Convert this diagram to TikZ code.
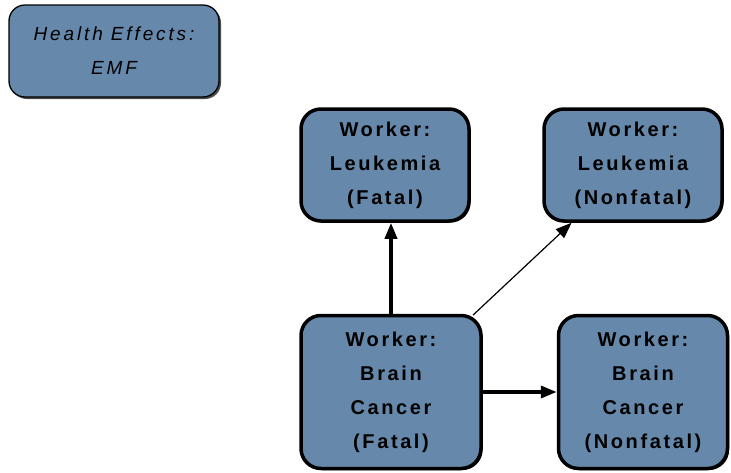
\documentclass[tikz,border=0pt]{standalone}
\usepackage{fontspec}
\setmainfont{Liberation Sans}
\newfontfamily\wfont[LetterSpace=13]{Liberation Sans}
\newfontfamily\efont[LetterSpace=15]{Liberation Sans}
\usepackage{tikz}
\usetikzlibrary{arrows.meta}
\usetikzlibrary{shadows}
\definecolor{boxblue}{RGB}{102,136,170}

\begin{document}
\begin{tikzpicture}[x=1pt,y=-1pt,
  effect/.style={draw=black,line width=1.3pt,fill=boxblue,rounded corners=16pt,
    align=center,inner sep=0pt,
    drop shadow={shadow xshift=2pt,shadow yshift=-2pt,fill=black!70,opacity=1},
    font=\efont\itshape\fontsize{19}{34}\selectfont},
  worker/.style={draw=black,line width=3.5pt,fill=boxblue,rounded corners=20pt,
    align=center,inner sep=0pt,
    drop shadow={shadow xshift=1.5pt,shadow yshift=-1.5pt,fill=black,opacity=1},
    font=\wfont\bfseries\fontsize{20}{34}\selectfont},
  link/.style={-{Triangle[length=16pt,width=12pt]}}]
\useasboundingbox (0,0) rectangle (731,472);

\node [effect,minimum width=210pt,minimum height=92pt] (emf) at (114,51) {Health Effects:\\EMF};

\node [worker,minimum width=168pt,minimum height=112pt] (leukF) at (385,165) {Worker:\\Leukemia\\(Fatal)};
\node [worker,minimum width=178pt,minimum height=112pt] (leukN) at (633,165) {Worker:\\Leukemia\\(Nonfatal)};
\node [worker,minimum width=180pt,minimum height=153pt] (brainF) at (391,392) {Worker:\\Brain\\Cancer\\(Fatal)};
\node [worker,minimum width=169pt,minimum height=153pt] (brainN) at (643,392) {Worker:\\Brain\\Cancer\\(Nonfatal)};

\draw [link,line width=3.5pt] (brainF) -- (brainF |- leukF.south);
\draw [link,line width=1.2pt,shorten <=-2pt] (brainF) -- (leukN);
\draw [link,line width=3.5pt] (brainF) -- (brainN);

\end{tikzpicture}
\end{document}
